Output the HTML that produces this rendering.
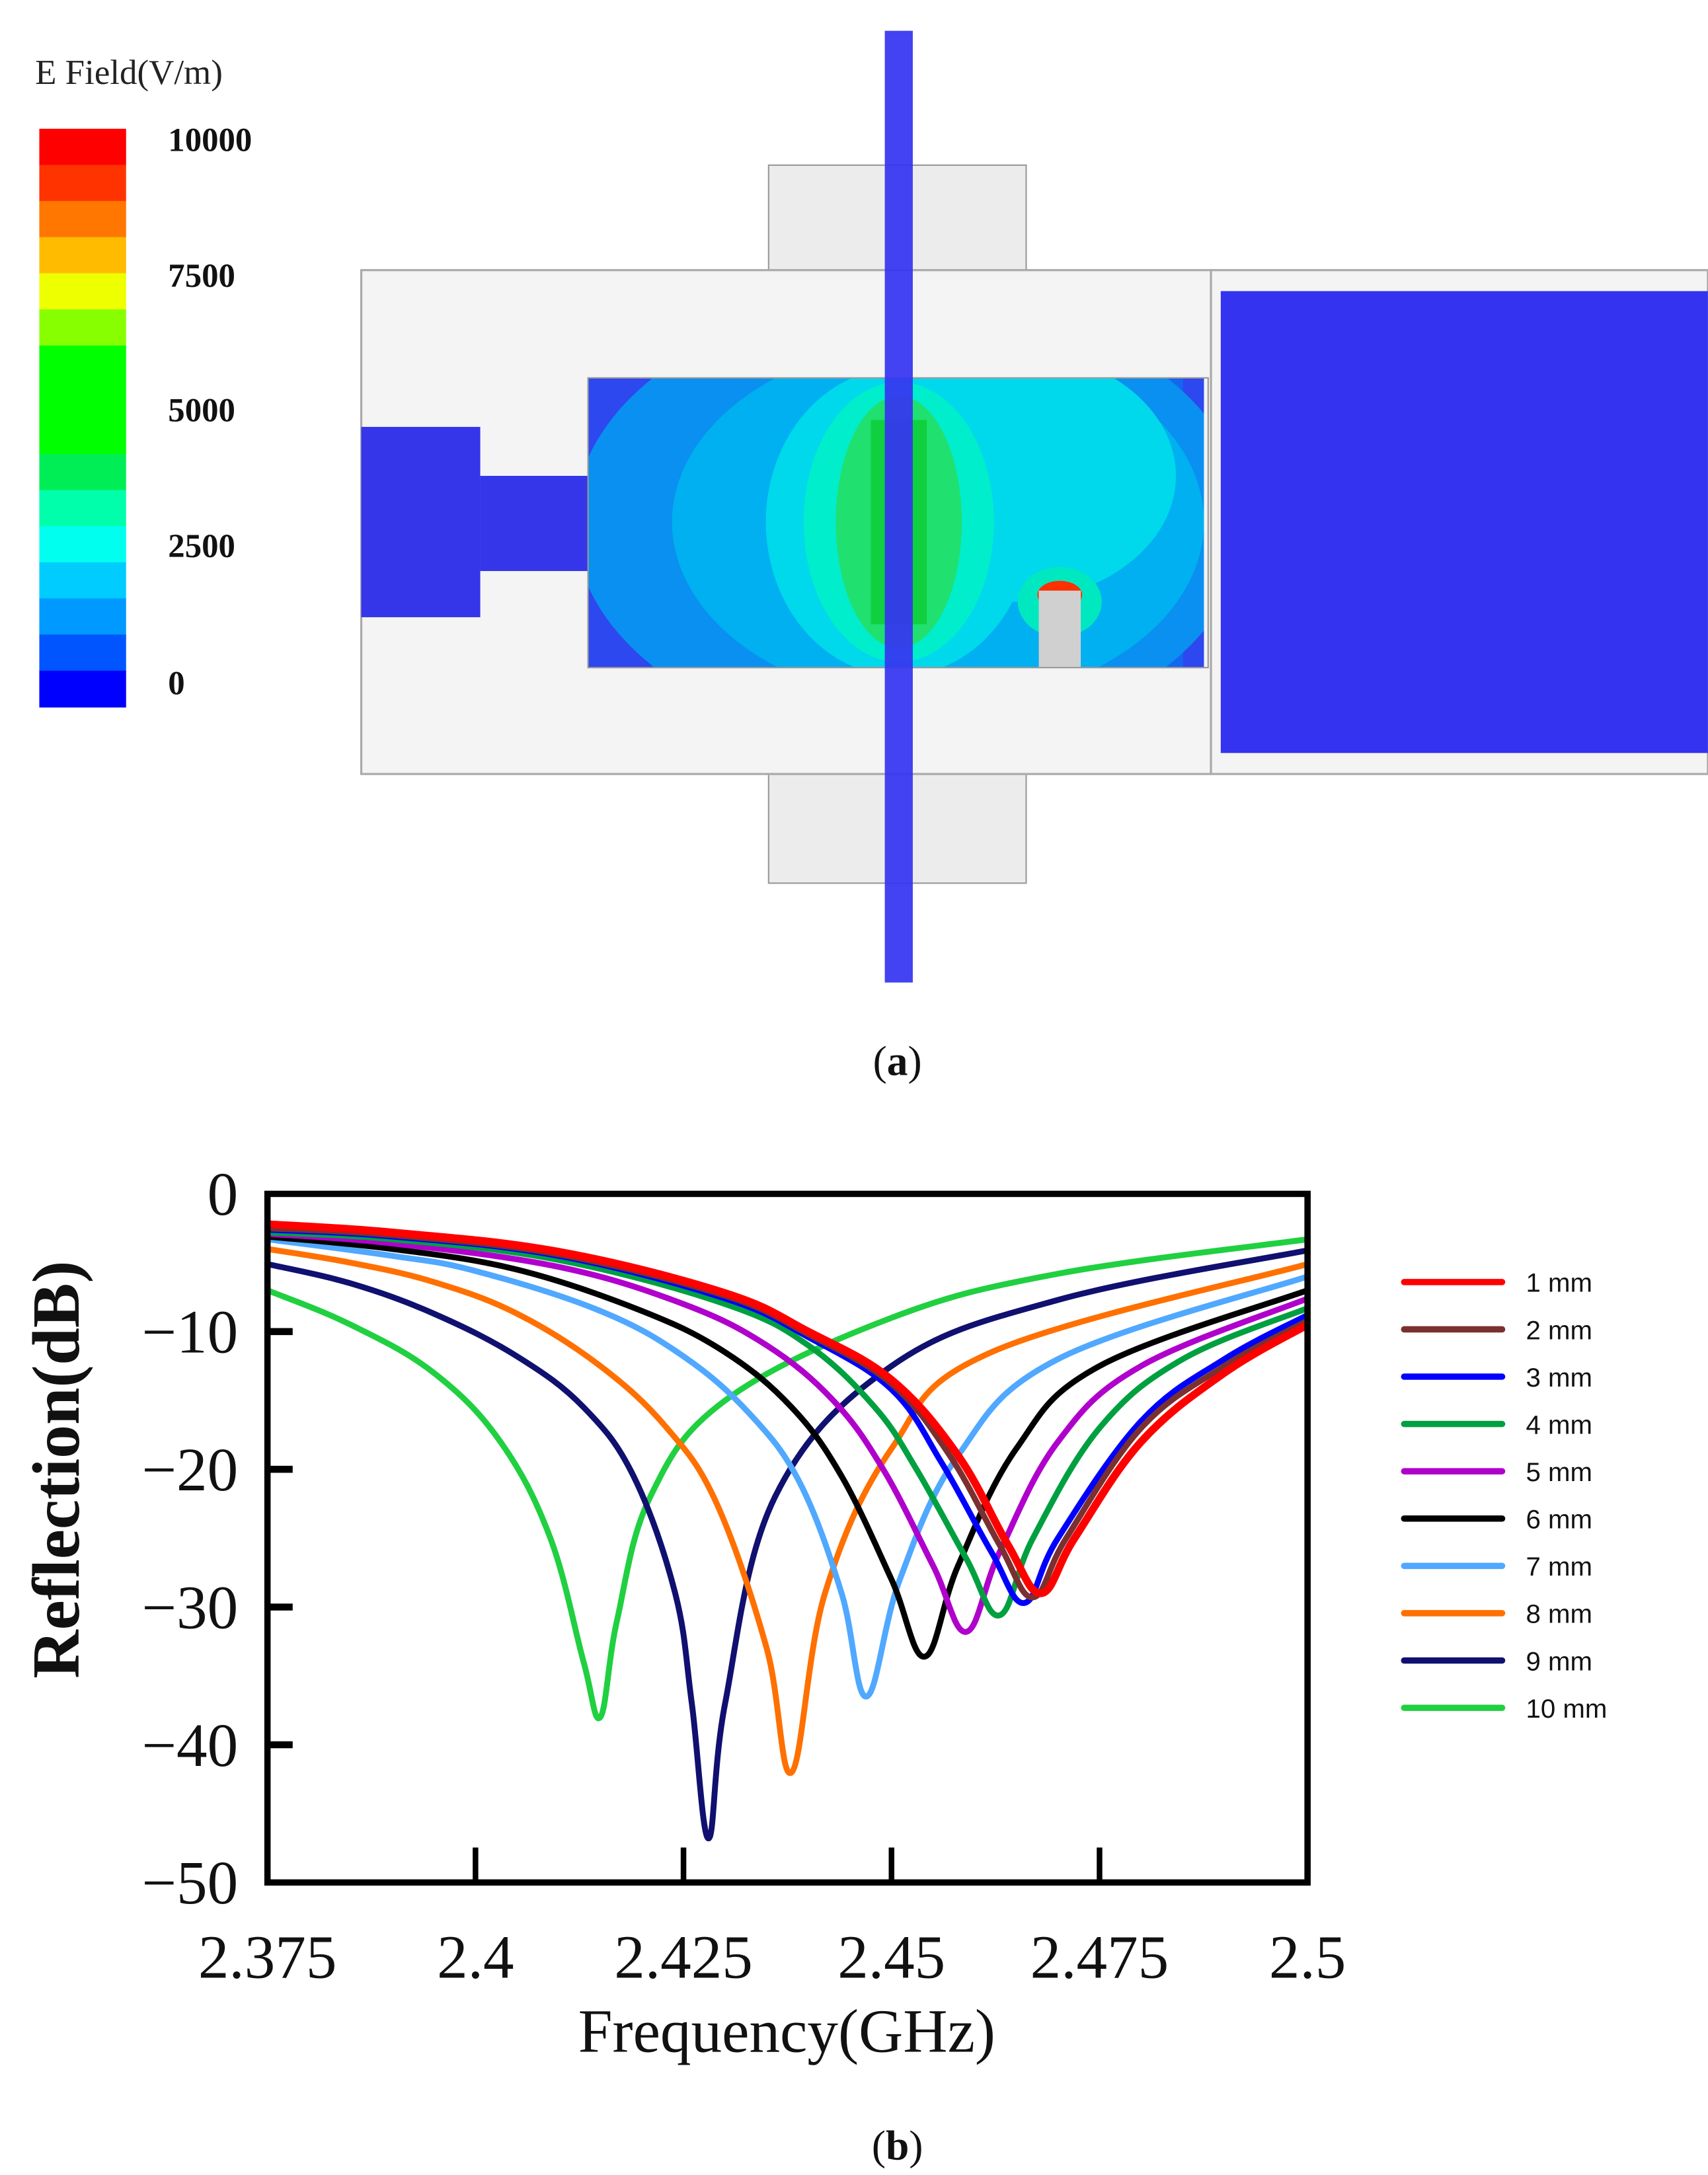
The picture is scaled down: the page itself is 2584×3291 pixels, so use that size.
<!DOCTYPE html>
<html><head><meta charset="utf-8"><style>
html,body{margin:0;padding:0;background:#fff;}
svg{display:block;}
</style></head><body>
<svg id="fig" width="2584" height="3291" viewBox="0 0 1220 1554" xmlns="http://www.w3.org/2000/svg">
<rect width="1220" height="1554" fill="#fff"/>
<g>
  <text x="25" y="60" font-family="Liberation Serif, serif" font-size="25" fill="#222">E Field(V/m)</text>
  <g id="cbar"></g>
  <g font-family="Liberation Serif, serif" font-size="24" font-weight="bold" fill="#111">
    <text x="120" y="108">10000</text><text x="120" y="205">7500</text><text x="120" y="301">5000</text><text x="120" y="398">2500</text><text x="120" y="496">0</text>
  </g>
  <rect x="549" y="118" width="184" height="76" fill="#ececec" stroke="#999" stroke-width="1"/>
  <rect x="549" y="553" width="184" height="78" fill="#ececec" stroke="#999" stroke-width="1"/>
  <rect x="258" y="193" width="607" height="360" fill="#f4f4f4" stroke="#aaa" stroke-width="1.5"/>
  <rect x="865" y="193" width="355" height="360" fill="#f4f4f4" stroke="#aaa" stroke-width="1.5"/>
  <rect x="872" y="208" width="348" height="330" fill="#3333f0"/>
  <rect x="258" y="305" width="85" height="136" fill="#3535ea"/>
  <rect x="343" y="340" width="77" height="68" fill="#3535ea"/>
  <g>
    <clipPath id="cav"><rect x="420" y="270" width="443" height="207"/></clipPath>
    <g clip-path="url(#cav)">
      <rect x="420" y="270" width="443" height="207" fill="#2d48ee"/>
      <rect x="465" y="270" width="380" height="207" fill="#1466f0"/>
      <ellipse cx="650" cy="373" rx="240" ry="160" fill="#0a90f0"/>
      <ellipse cx="670" cy="373" rx="190" ry="130" fill="#00b0f0"/>
      <ellipse cx="720" cy="340" rx="120" ry="90" fill="#00d8ec"/>
      <ellipse cx="642" cy="373" rx="95" ry="110" fill="#00d8ec"/>
      <ellipse cx="642" cy="373" rx="68" ry="100" fill="#00eecc"/>
      <ellipse cx="642" cy="373" rx="45" ry="90" fill="#20e070"/>
      <rect x="622" y="300" width="40" height="146" fill="#10d040"/>
      <ellipse cx="757" cy="430" rx="30" ry="25" fill="#00e8c0"/>
      <ellipse cx="757" cy="425" rx="16" ry="10" fill="#ff3000"/>
      <rect x="742" y="422" width="30" height="55" fill="#d0d0d0"/>
      <rect x="860" y="270" width="10" height="207" fill="#f4f4f4"/>
    </g>
    <rect x="420" y="270" width="443" height="207" fill="none" stroke="#999" stroke-width="1"/>
  </g>
  <rect x="632" y="22" width="20" height="680" fill="#3535f0" opacity="0.93"/>
  <text x="641" y="768" text-anchor="middle" font-family="Liberation Serif, serif" font-size="30" fill="#111">(<tspan font-weight="bold">a</tspan>)</text>
</g>
<g id="chart">
  <g id="series"></g>
  <rect x="191" y="853" width="743" height="492" fill="none" stroke="#000" stroke-width="4.5"/>
  <g id="ticks"></g>
  <text x="562" y="1466" text-anchor="middle" font-family="Liberation Serif, serif" font-size="44" fill="#111">Frequency(GHz)</text>
  <text transform="translate(56,1050) rotate(-90)" text-anchor="middle" font-family="Liberation Serif, serif" font-size="48" font-weight="bold" fill="#111">Reflection(dB)</text>
  <g id="legend"></g>
  <text x="641" y="1543" text-anchor="middle" font-family="Liberation Serif, serif" font-size="30" fill="#111">(<tspan font-weight="bold">b</tspan>)</text>
</g>
</svg>
<script>
const NS='http://www.w3.org/2000/svg';
const cbarColors=['#ff0000','#ff3300','#ff7700','#ffbb00','#eeff00','#88ff00','#00ff00','#00ff00','#00ff00','#00ee55','#00ffaa','#00ffee','#00ccff','#0099ff','#0055ff','#0000ff'];
const xTicks=[2.375,2.4,2.425,2.45,2.475,2.5];
const xTickLabels=['2.375','2.4','2.425','2.45','2.475','2.5'];
const yTicks=[0,-10,-20,-30,-40,-50];
const yTickLabels=['0','\u221210','\u221220','\u221230','\u221240','\u221250'];
const seriesNames=['1 mm','2 mm','3 mm','4 mm','5 mm','6 mm','7 mm','8 mm','9 mm','10 mm'];
const seriesColors=['#ff0000','#7a3030','#0000ff','#00a040','#b000cc','#000000','#50a8ff','#ff7000','#101070','#20d040'];
const freq1=[2.375,2.39,2.41,2.43,2.44,2.45,2.458,2.464,2.468,2.472,2.48,2.49,2.5];
const vals1=[-2.2,-2.8,-4.2,-7.2,-10,-13.5,-19,-25.5,-29,-25,-18,-13,-9.5];
const freq2=[2.375,2.39,2.41,2.43,2.44,2.45,2.457,2.463,2.467,2.471,2.48,2.49,2.5];
const vals2=[-2.5,-3,-4.4,-7.4,-10.2,-13.8,-19,-25.5,-29.3,-25,-17,-12.5,-9.2];
const freq3=[2.375,2.39,2.41,2.43,2.44,2.45,2.456,2.462,2.466,2.47,2.48,2.49,2.5];
const vals3=[-2.6,-3.1,-4.5,-7.6,-10.4,-14.2,-19.5,-26,-29.7,-25,-16.5,-12,-8.8];
const freq4=[2.375,2.39,2.41,2.43,2.44,2.448,2.453,2.459,2.463,2.467,2.475,2.485,2.5];
const vals4=[-2.8,-3.3,-4.8,-8,-11,-15.5,-20,-26.5,-30.6,-25,-17,-12,-8.3];
const freq5=[2.375,2.39,2.41,2.425,2.435,2.443,2.449,2.455,2.459,2.463,2.47,2.48,2.5];
const vals5=[-2.9,-3.6,-5.3,-8,-11,-15,-20,-27,-31.8,-26,-18,-12.5,-7.6];
const freq6=[2.375,2.39,2.405,2.42,2.43,2.438,2.444,2.45,2.454,2.458,2.465,2.475,2.5];
const vals6=[-3.1,-4,-5.5,-8.5,-11.5,-15.5,-20.5,-28,-33.6,-27,-18.5,-12.5,-7];
const freq7=[2.375,2.39,2.4,2.415,2.425,2.433,2.439,2.444,2.447,2.451,2.458,2.47,2.5];
const vals7=[-3.3,-4.5,-5.6,-8.5,-11.8,-16,-21,-29,-36.5,-28,-19,-12,-6];
const freq8=[2.375,2.385,2.395,2.405,2.415,2.423,2.429,2.435,2.438,2.442,2.45,2.462,2.5];
const vals8=[-4,-5,-6.4,-8.7,-12.5,-17,-22.5,-33,-42,-29,-18.5,-11.5,-5.1];
const freq9=[2.375,2.385,2.395,2.405,2.413,2.419,2.424,2.426,2.428,2.43,2.436,2.45,2.47,2.5];
const vals9=[-5.1,-6.5,-8.7,-11.8,-15.5,-20.5,-29,-37,-46.8,-37,-22,-12.5,-7.7,-4.1];
const freq10=[2.375,2.385,2.395,2.403,2.409,2.413,2.415,2.417,2.421,2.43,2.45,2.47,2.5];
const vals10=[-7,-9.5,-13,-18,-25,-34,-38,-31,-22,-15,-9,-5.8,-3.3];
const allFreq=[freq1,freq2,freq3,freq4,freq5,freq6,freq7,freq8,freq9,freq10];
const allVals=[vals1,vals2,vals3,vals4,vals5,vals6,vals7,vals8,vals9,vals10];

const X0=191,X1=934,Y0=853,Y1=1345,FMIN=2.375,FMAX=2.5,VMAX=0,VMIN=-50;
function xs(f){return X0+(f-FMIN)/(FMAX-FMIN)*(X1-X0);}
function ys(v){return Y0+(VMAX-v)/(VMAX-VMIN)*(Y1-Y0);}
function mk(t,a){const e=document.createElementNS(NS,t);for(const k in a)e.setAttribute(k,a[k]);return e;}

const cb=document.getElementById('cbar');
const cbTop=92,cbH=413,bh=cbH/cbarColors.length;
cbarColors.forEach((c,i)=>{
  const r=mk('rect',{x:28,y:cbTop+i*bh,width:62,height:bh+0.5,fill:c});
  
  
  cb.appendChild(r);
});

function pathFrom(pts){
  let d='M'+pts[0][0].toFixed(2)+','+pts[0][1].toFixed(2);
  for(let i=0;i<pts.length-1;i++){
    const p0=pts[Math.max(0,i-1)],p1=pts[i],p2=pts[i+1],p3=pts[Math.min(pts.length-1,i+2)];
    const t=0.18;
    const c1=[p1[0]+(p2[0]-p0[0])*t,p1[1]+(p2[1]-p0[1])*t];
    const c2=[p2[0]-(p3[0]-p1[0])*t,p2[1]-(p3[1]-p1[1])*t];
    d+=' C'+c1[0].toFixed(2)+','+c1[1].toFixed(2)+' '+c2[0].toFixed(2)+','+c2[1].toFixed(2)+' '+p2[0].toFixed(2)+','+p2[1].toFixed(2);
  }
  return d;
}
const sg=document.getElementById('series');
for(let s=allFreq.length-1;s>=0;s--){
  const pts=allFreq[s].map((f,i)=>[xs(f),ys(allVals[s][i])]);
  const p=mk('path',{d:pathFrom(pts),fill:'none',stroke:seriesColors[s],'stroke-width':s===0?5.5:4.2,'stroke-linejoin':'round'});
  
  
  sg.appendChild(p);
}

const tg=document.getElementById('ticks');
xTicks.forEach((f,i)=>{
  if(i>0&&i<xTicks.length-1){
    const l=mk('line',{x1:xs(f),x2:xs(f),y1:Y1,y2:Y1-25,stroke:'#000','stroke-width':4});
    
    
    tg.appendChild(l);
  }
  const t=mk('text',{x:xs(f),y:1413,'text-anchor':'middle','font-family':'Liberation Serif, serif','font-size':44,fill:'#111'});
  t.textContent=xTickLabels[i];
  
  
  tg.appendChild(t);
});
yTicks.forEach((v,i)=>{
  if(i>0&&i<yTicks.length-1){
    const l=mk('line',{x1:X0,x2:X0+18,y1:ys(v),y2:ys(v),stroke:'#000','stroke-width':5});
    
    
    tg.appendChild(l);
  }
  const t=mk('text',{x:170,y:ys(v)+15,'text-anchor':'end','font-family':'Liberation Serif, serif','font-size':44,fill:'#111'});
  t.textContent=yTickLabels[i];
  
  
  tg.appendChild(t);
});

const lg=document.getElementById('legend');
seriesNames.forEach((n,i)=>{
  const y=916+i*33.8;
  const l=mk('line',{x1:1003,x2:1073,y1:y,y2:y,stroke:seriesColors[i],'stroke-width':4.5,'stroke-linecap':'round'});
  
  
  lg.appendChild(l);
  const t=mk('text',{x:1090,y:y+7,'font-family':'Liberation Sans, sans-serif','font-size':19,fill:'#111'});
  t.textContent=n;
  
  
  lg.appendChild(t);
});
</script>
</body></html>
